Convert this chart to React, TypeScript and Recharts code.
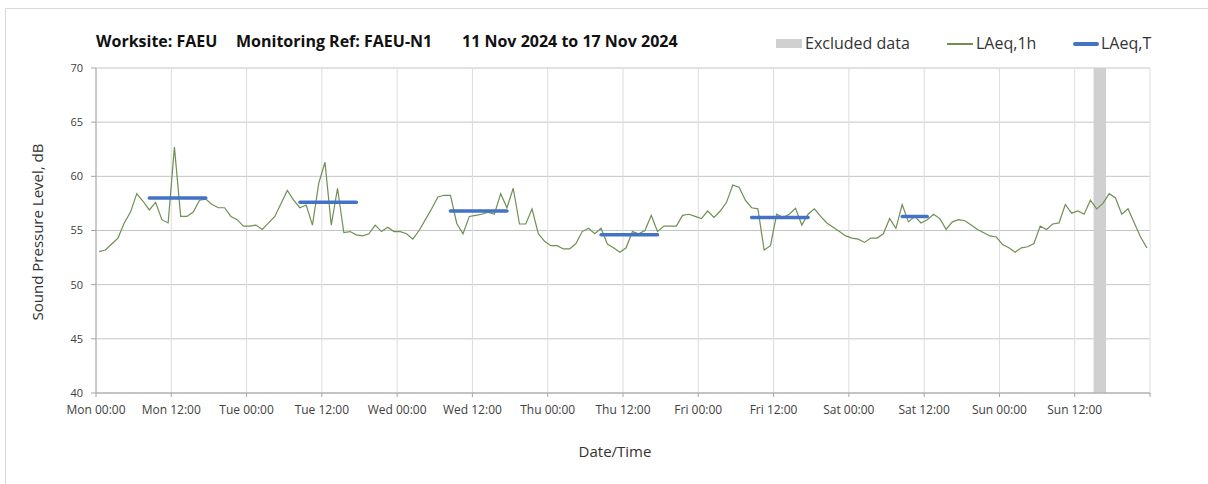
import {
  CartesianGrid,
  Line,
  LineChart,
  ReferenceArea,
  XAxis,
  YAxis,
} from 'recharts';

// hourly LAeq,1h values, Mon 00:00 .. Sun 23:00
const LAEQ_1H = [
  53.05, 53.2, 53.75, 54.3, 55.7, 56.7, 58.4, 57.7, 56.9, 57.6, 56.0, 55.7,
  62.7, 56.3, 56.3, 56.7, 57.8, 57.9, 57.4, 57.1, 57.1, 56.3, 56.0, 55.4,
  55.4, 55.5, 55.1, 55.7, 56.3, 57.5, 58.7, 57.8, 57.1, 57.35, 55.5, 59.35,
  61.3, 55.5, 58.9, 54.8, 54.9, 54.6, 54.5, 54.7, 55.5, 54.9, 55.3, 54.9,
  54.9, 54.7, 54.2, 55.0, 56.0, 57.0, 58.1, 58.25, 58.25, 55.65, 54.7, 56.3,
  56.4, 56.5, 56.7, 56.5, 58.4, 57.1, 58.9, 55.6, 55.6, 57.0, 54.7, 54.0,
  53.6, 53.6, 53.3, 53.3, 53.8, 54.9, 55.2, 54.7, 55.2, 53.75, 53.4, 53.0,
  53.4, 54.9, 54.7, 55.0, 56.4, 54.9, 55.4, 55.4, 55.4, 56.4, 56.5, 56.3,
  56.1, 56.8, 56.2, 56.8, 57.6, 59.2, 59.0, 57.8, 57.1, 57.0, 53.2, 53.6,
  56.5, 56.2, 56.5, 57.05, 55.5, 56.5, 57.0, 56.3, 55.7, 55.3, 54.9, 54.5,
  54.3, 54.2, 53.9, 54.3, 54.3, 54.7, 56.1, 55.2, 57.4, 55.8, 56.3, 55.7,
  56.0, 56.5, 56.1, 55.1, 55.8, 56.0, 55.9, 55.5, 55.1, 54.8, 54.5, 54.4,
  53.7, 53.4, 53.0, 53.4, 53.5, 53.8, 55.4, 55.1, 55.6, 55.7, 57.4, 56.6,
  56.8, 56.5, 57.8, 57.0, 57.5, 58.4, 58.0, 56.5, 57.0, 55.7, 54.4, 53.4,
];

// LAeq,T periods (hour index of first / last hour)
const PERIOD_START = [8, 32, 56, 80, 104, 128];
const PERIOD_END = [17, 41, 65, 89, 113, 132];
const PERIOD_LAEQ = [58.0, 57.6, 56.8, 54.6, 56.2, 56.3];

const EXCLUDED_FROM = 159;
const EXCLUDED_TO = 161;

const DAY_LABELS = ['Mon', 'Tue', 'Wed', 'Thu', 'Fri', 'Sat', 'Sun'];
const X_TICKS = Array.from({ length: 15 }, (_, i) => i * 12);
const Y_TICKS = [40, 45, 50, 55, 60, 65, 70];

const FONT = '"Open Sans", "DejaVu Sans", sans-serif';
const TEXT = '#404040';

const data = LAEQ_1H.map((v, h) => {
  const p = PERIOD_START.findIndex((s, i) => h >= s && h <= PERIOD_END[i]);
  return { t: h + 0.5, laeq1h: v, laeqT: p >= 0 ? PERIOD_LAEQ[p] : null };
});

function formatTick(t: number): string {
  if (t >= 168) return '';
  return `${DAY_LABELS[Math.floor(t / 24)]} ${t % 24 === 0 ? '00' : '12'}:00`;
}

const titleStyle = {
  position: 'absolute' as const,
  top: 30,
  fontSize: 16,
  fontWeight: 700,
  color: '#111',
  whiteSpace: 'nowrap' as const,
};

export default function App() {
  return (
    <div style={{ position: 'relative', width: 1208, height: 484, fontFamily: FONT, color: TEXT }}>
      <style>{'body{margin:0}'}</style>
      <div
        style={{
          position: 'absolute',
          left: 5,
          top: 8,
          width: 1210,
          height: 480,
          border: '1px solid #d9d9d9',
        }}
      />
      <LineChart
        width={1208}
        height={484}
        data={data}
        margin={{ top: 68, right: 58, bottom: 61, left: 56 }}
      >
        <CartesianGrid stroke="#c4c4c4" vertical={false} />
        <CartesianGrid stroke="#dcdcdc" horizontal={false} />
        <ReferenceArea
          x1={EXCLUDED_FROM}
          x2={EXCLUDED_TO}
          fill="#d0d0d0"
          fillOpacity={1}
          stroke="none"
        />
        <XAxis
          dataKey="t"
          type="number"
          domain={[0, 168]}
          ticks={X_TICKS}
          tickFormatter={formatTick}
          interval={0}
          height={30}
          tick={{ fill: TEXT, fontSize: 12 }}
          tickSize={4}
          tickMargin={8}
          tickLine={{ stroke: '#a6a6a6' }}
          axisLine={{ stroke: '#a6a6a6' }}
        />
        <YAxis
          domain={[40, 70]}
          ticks={Y_TICKS}
          width={40}
          interval={0}
          tick={{ fill: TEXT, fontSize: 11 }}
          tickSize={5}
          tickMargin={8}
          tickLine={{ stroke: '#a6a6a6' }}
          axisLine={{ stroke: '#a6a6a6' }}
        />
        <Line
          dataKey="laeq1h"
          stroke="#6f8f55"
          strokeWidth={1.2}
          dot={false}
          isAnimationActive={false}
        />
        <Line
          dataKey="laeqT"
          stroke="#4472c4"
          strokeWidth={3.5}
          strokeLinecap="round"
          dot={false}
          connectNulls={false}
          isAnimationActive={false}
        />
      </LineChart>

      {/* title */}
      <div style={{ ...titleStyle, left: 96 }}>Worksite: FAEU</div>
      <div style={{ ...titleStyle, left: 236 }}>Monitoring Ref: FAEU-N1</div>
      <div style={{ ...titleStyle, left: 462 }}>11 Nov 2024 to 17 Nov 2024</div>

      {/* legend */}
      <div style={{ position: 'absolute', top: 33, left: 776, fontSize: 16, color: '#333', whiteSpace: 'nowrap', lineHeight: '20px' }}>
        <span style={{ position: 'absolute', left: 0, top: 6, width: 26, height: 9, background: '#d0d0d0' }} />
        <span style={{ position: 'absolute', left: 29 }}>Excluded data</span>
        <span style={{ position: 'absolute', left: 171, top: 10, width: 26, height: 1.5, background: '#6f8f55' }} />
        <span style={{ position: 'absolute', left: 200 }}>LAeq,1h</span>
        <span style={{ position: 'absolute', left: 297, top: 9, width: 26, height: 3.5, background: '#4472c4', borderRadius: 2 }} />
        <span style={{ position: 'absolute', left: 325 }}>LAeq,T</span>
      </div>

      {/* axis titles */}
      <div
        style={{
          position: 'absolute',
          left: 37,
          top: 232,
          fontSize: 15,
          color: '#333',
          whiteSpace: 'nowrap',
          transform: 'translate(-50%, -50%) rotate(-90deg)',
        }}
      >
        Sound Pressure Level, dB
      </div>
      <div style={{ position: 'absolute', left: 615, top: 451, fontSize: 15, color: '#333', transform: 'translate(-50%, -50%)', whiteSpace: 'nowrap' }}>
        Date/Time
      </div>
    </div>
  );
}
